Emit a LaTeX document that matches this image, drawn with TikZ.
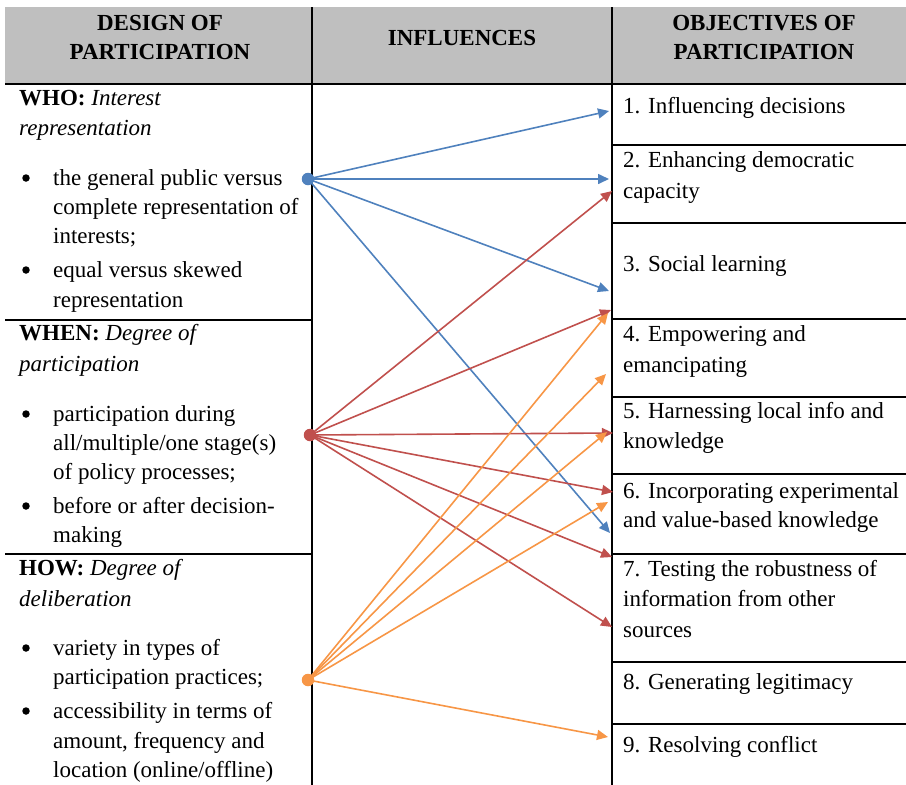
\documentclass[tikz,border=0pt]{standalone}
\usepackage{fontspec}
\setmainfont{Liberation Serif}
\usetikzlibrary{arrows.meta}
\definecolor{cblue}{HTML}{4F81BD}
\definecolor{cred}{HTML}{C0504D}
\definecolor{corange}{HTML}{F79646}
\definecolor{hdrgray}{HTML}{BFBFBF}
\begin{document}
\begin{tikzpicture}[x=1pt,y=-1pt,
  txt/.style={anchor=base west, inner sep=0pt, font=\fontsize{23}{29}\selectfont},
  hdr/.style={anchor=base, inner sep=0pt, font=\fontsize{23}{29}\selectfont\bfseries},
  bul/.style={circle, fill=black, inner sep=0pt, minimum size=7.5pt},
  rule/.style={line width=1.2pt, black},
  dot/.style={circle, inner sep=0pt, minimum size=12.5pt},
  link/.style={line width=1.6pt, -{Triangle[length=11pt,width=10pt]}},
]
\useasboundingbox (0,0) rectangle (906,785);
% header
\fill[hdrgray] (5,7) rectangle (906,84);
\node[hdr] (h1a) at (160,30) {DESIGN OF};
\node[hdr] (h1b) at (160,59.5) {PARTICIPATION};
\node[hdr] (h2) at (462,45.5) {INFLUENCES};
\node[hdr] (h3a) at (764,30) {OBJECTIVES OF};
\node[hdr] (h3b) at (764,59.5) {PARTICIPATION};
% grid
\draw[line width=2pt] (5,84) -- (906,84);
\draw[rule] (312,7) -- (312,785);
\draw[rule] (612,7) -- (612,785);
\draw[rule] (5,320) -- (312,320);
\draw[rule] (5,554) -- (312,554);
\foreach \yy in {145,223,319,397,474,554,662,724}
  \draw[rule] (612,\yy) -- (906,\yy);
% left column: WHO
\node[txt] (who1) at (19,105) {\textbf{WHO:} \textit{Interest}};
\node[txt] (who2) at (19,135) {\textit{representation}};
\node[bul] (whob1) at (26,178) {};
\node[txt] (who3) at (53,185) {the general public versus};
\node[txt] (who4) at (53,214) {complete representation of};
\node[txt] (who5) at (53,243) {interests;};
\node[bul] (whob2) at (26,270) {};
\node[txt] (who6) at (53,277) {equal versus skewed};
\node[txt] (who7) at (53,307) {representation};
% WHEN
\node[txt] (when1) at (19,340) {\textbf{WHEN:} \textit{Degree of}};
\node[txt] (when2) at (19,371) {\textit{participation}};
\node[bul] (whenb1) at (26,414) {};
\node[txt] (when3) at (53,421) {participation during};
\node[txt] (when4) at (53,450) {all/multiple/one stage(s)};
\node[txt] (when5) at (53,479) {of policy processes;};
\node[bul] (whenb2) at (26,506) {};
\node[txt] (when6) at (53,513) {before or after decision-};
\node[txt] (when7) at (53,542) {making};
% HOW
\node[txt] (how1) at (19,575) {\textbf{HOW:} \textit{Degree of}};
\node[txt] (how2) at (19,606) {\textit{deliberation}};
\node[bul] (howb1) at (26,648) {};
\node[txt] (how3) at (53,655) {variety in types of};
\node[txt] (how4) at (53,684) {participation practices;};
\node[bul] (howb2) at (26,711) {};
\node[txt] (how5) at (53,718) {accessibility in terms of};
\node[txt] (how6) at (53,748) {amount, frequency and};
\node[txt] (how7) at (53,777.5) {location (online/offline)};
% right column
\node[txt] (o1) at (623,113) {1. Influencing decisions};
\node[txt] (o2a) at (623,167) {2. Enhancing democratic};
\node[txt] (o2b) at (623,198) {capacity};
\node[txt] (o3) at (623,271) {3. Social learning};
\node[txt] (o4a) at (623,341) {4. Empowering and};
\node[txt] (o4b) at (623,372) {emancipating};
\node[txt] (o5a) at (623,418) {5. Harnessing local info and};
\node[txt] (o5b) at (623,448) {knowledge};
\node[txt] (o6a) at (623,498) {6. Incorporating experimental};
\node[txt] (o6b) at (623,527) {and value-based knowledge};
\node[txt] (o7a) at (623,576) {7. Testing the robustness of};
\node[txt] (o7b) at (623,606) {information from other};
\node[txt] (o7c) at (623,637) {sources};
\node[txt] (o8) at (623,689) {8. Generating legitimacy};
\node[txt] (o9) at (623,752) {9. Resolving conflict};
% dots
\node[dot, fill=cblue] (dwho) at (308,179) {};
\node[dot, fill=cred] (dwhen) at (310,435) {};
\node[dot, fill=corange] (dhow) at (308,680) {};
% arrow end points
\coordinate (tb1) at (609,111);
\coordinate (tb2) at (609,179);
\coordinate (tb3) at (609,291);
\coordinate (tb4) at (610,533);
\coordinate (tr1) at (612,191);
\coordinate (tr2) at (611,310);
\coordinate (tr3) at (613,433);
\coordinate (tr4) at (613,492);
\coordinate (tr5) at (612,557);
\coordinate (tr6) at (612,627);
\coordinate (to1) at (608,313);
\coordinate (to2) at (606,374);
\coordinate (to3) at (607,432);
\coordinate (to4) at (608,502);
\coordinate (to5) at (608,737);
% connectors
\foreach \t in {tb1,tb2,tb3,tb4}
  \draw[link, cblue] (dwho.center) -- (\t);
\foreach \t in {tr1,tr2,tr3,tr4,tr5,tr6}
  \draw[link, cred] (dwhen.center) -- (\t);
\foreach \t in {to1,to2,to3,to4,to5}
  \draw[link, corange] (dhow.center) -- (\t);
\end{tikzpicture}
\end{document}
